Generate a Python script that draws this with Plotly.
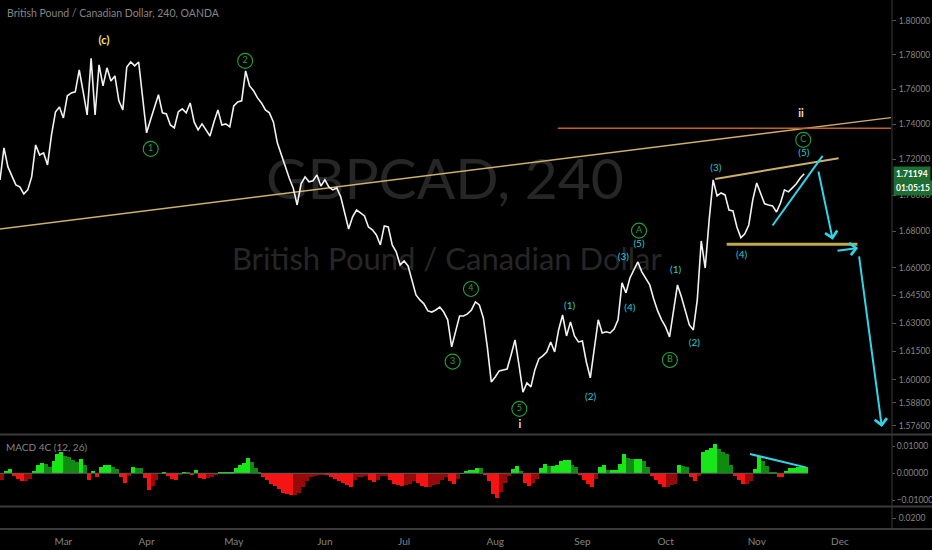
import math
import pandas as pd
import plotly.graph_objects as go

# ---------------- data ----------------
# GBPCAD, 4h chart condensed to one reading per trading day (starting 2019-02-07)
close = [
    1.7085, 1.7265, 1.7158, 1.7102, 1.7057, 1.7046, 1.7006, 1.7029, 1.7102, 1.7282,
    1.7225, 1.7237, 1.7169, 1.7339, 1.7470, 1.7499, 1.7436, 1.7563, 1.7580, 1.7586,
    1.7713, 1.7586, 1.7453, 1.7780, 1.7453, 1.7742, 1.7620, 1.7725, 1.7649, 1.7678,
    1.7534, 1.7482, 1.7730, 1.7759, 1.7736, 1.7759, 1.7539, 1.7351, 1.7425, 1.7499,
    1.7569, 1.7465, 1.7459, 1.7396, 1.7379, 1.7470, 1.7488, 1.7465, 1.7522, 1.7413,
    1.7368, 1.7402, 1.7368, 1.7333, 1.7413, 1.7482, 1.7396, 1.7402, 1.7385, 1.7505,
    1.7528, 1.7534, 1.7707, 1.7620, 1.7592, 1.7551, 1.7522, 1.7482, 1.7465, 1.7413,
    1.7294, 1.7225, 1.7152, 1.7096, 1.7040, 1.6945, 1.7063, 1.7102, 1.7074, 1.7080,
    1.7113, 1.7051, 1.7085, 1.7046, 1.7029, 1.7040, 1.6990, 1.6906, 1.6812, 1.6879,
    1.6917, 1.6901, 1.6884, 1.6823, 1.6807, 1.6779, 1.6724, 1.6829, 1.6823, 1.6724,
    1.6686, 1.6615, 1.6636, 1.6609, 1.6522, 1.6452, 1.6425, 1.6404, 1.6366, 1.6360,
    1.6371, 1.6387, 1.6360, 1.6318, 1.6174, 1.6264, 1.6339, 1.6339, 1.6350, 1.6371,
    1.6414, 1.6398, 1.6328, 1.6174, 1.5989, 1.6015, 1.6047, 1.6052, 1.6057, 1.6131,
    1.6211, 1.6078, 1.5935, 1.5984, 1.5963, 1.6052, 1.6110, 1.6126, 1.6147, 1.6200,
    1.6147, 1.6264, 1.6344, 1.6232, 1.6307, 1.6232, 1.6200, 1.6205, 1.6094, 1.6010,
    1.6158, 1.6318, 1.6248, 1.6254, 1.6248, 1.6269, 1.6318, 1.6517, 1.6463, 1.6544,
    1.6588, 1.6631, 1.6577, 1.6544, 1.6506, 1.6430, 1.6366, 1.6318, 1.6280, 1.6227,
    1.6360, 1.6506, 1.6441, 1.6360, 1.6291, 1.6264, 1.6425, 1.6746, 1.6598, 1.6862,
    1.7085, 1.6995, 1.7012, 1.7001, 1.6917, 1.6912, 1.6823, 1.6763, 1.6785, 1.6834,
    1.6973, 1.7068, 1.7006, 1.6951, 1.6945, 1.6940, 1.6906, 1.6956, 1.7029, 1.7018,
    1.7040, 1.7063, 1.7096, 1.71194,
]

# MACD 4C (12, 26) histogram, one reading per trading day
macd_hist = [
    -0.0025, 0.0010, 0.0015, -0.0010, -0.0020, -0.0030, -0.0030, -0.0020, 0.0008, 0.0032,
    0.0040, 0.0033, 0.0025, 0.0045, 0.0073, 0.0078, 0.0065, 0.0059, 0.0048, 0.0043,
    0.0053, 0.0030, -0.0025, 0.0010, -0.0012, 0.0023, 0.0030, 0.0030, 0.0024, 0.0015,
    -0.0015, -0.0036, -0.0010, 0.0024, 0.0021, 0.0018, -0.0018, -0.0062, -0.0047, -0.0025,
    -0.0002, 0.0005, -0.0010, -0.0022, -0.0024, -0.0003, 0.0004, 0.0003, -0.0008, 0.0012,
    -0.0018, -0.0021, -0.0019, -0.0015, -0.0004, 0.0003, 0.0004, 0.0004, 0.0006, 0.0020,
    0.0031, 0.0040, 0.0056, 0.0042, 0.0020, 0.0003, -0.0012, -0.0025, -0.0038, -0.0048,
    -0.0058, -0.0073, -0.0077, -0.0079, -0.0079, -0.0072, -0.0050, -0.0027, -0.0015, -0.0009,
    -0.0006, -0.0005, -0.0008, -0.0013, -0.0020, -0.0027, -0.0035, -0.0045, -0.0052, -0.0025,
    -0.0014, -0.0012, -0.0010, -0.0025, -0.0033, -0.0023, -0.0010, -0.0010, -0.0025, -0.0038,
    -0.0042, -0.0046, -0.0043, -0.0040, -0.0028, -0.0036, -0.0048, -0.0052, -0.0050, -0.0045,
    -0.0038, -0.0025, -0.0015, -0.0030, -0.0040, -0.0020, 0.0001, 0.0008, 0.0012, 0.0014,
    0.0019, 0.0018, -0.0005, -0.0028, -0.0075, -0.0090, -0.0068, -0.0035, -0.0010, 0.0015,
    0.0028, 0.0010, -0.0035, -0.0046, -0.0035, -0.0020, 0.0020, 0.0035, 0.0028, 0.0028,
    0.0030, 0.0045, 0.0048, 0.0049, 0.0032, 0.0022, -0.0005, -0.0025, -0.0038, -0.0050,
    -0.0020, 0.0025, 0.0030, 0.0014, 0.0014, 0.0014, 0.0035, 0.0072, 0.0056, 0.0053,
    0.0053, 0.0053, 0.0045, 0.0022, -0.0009, -0.0025, -0.0040, -0.0052, -0.0050, -0.0045,
    -0.0040, 0.0030, 0.0028, 0.0022, -0.0015, -0.0030, -0.0010, 0.0080, 0.0088, 0.0095,
    0.0109, 0.0090, 0.0078, 0.0072, 0.0030, -0.0010, -0.0025, -0.0040, -0.0038, -0.0027,
    0.0015, 0.0063, 0.0045, 0.0028, 0.0003, 0.0002, -0.0012, -0.0015, 0.0010, 0.0019,
    0.0021, 0.0022, 0.0022, 0.0022,
]

month_ticks = ["2019-03-01", "2019-04-01", "2019-05-01", "2019-06-03", "2019-07-01",
               "2019-08-01", "2019-09-02", "2019-10-01", "2019-11-01", "2019-12-02"]
month_labels = ["Mar", "Apr", "May", "Jun", "Jul", "Aug", "Sep", "Oct", "Nov", "Dec"]

price_ticks = [1.80, 1.78, 1.76, 1.74, 1.72, 1.70, 1.68, 1.66, 1.645, 1.63, 1.615, 1.60, 1.588, 1.576]
macd_ticks = [0.01, 0.0, -0.01]

# Elliott-wave labels
circle_labels = ["1", "2", "3", "4", "5", "A", "B", "C"]
circle_x = ["2019-04-02 01:00", "2019-05-03 21:00", "2019-07-17 06:00", "2019-07-23 21:00",
            "2019-08-09 02:00", "2019-09-20 07:00", "2019-10-02 02:00", "2019-11-18 18:00"]
circle_y = [1.72596, 1.77653, 1.60956, 1.64844, 1.58479, 1.68028, 1.61047, 1.73106]

sub_labels = ["(1)", "(2)", "(3)", "(4)", "(5)", "(1)", "(2)", "(3)", "(4)", "(5)"]
sub_x = ["2019-08-27 19:00", "2019-09-04 02:00", "2019-09-16 08:00", "2019-09-18 00:00",
         "2019-09-20 07:00", "2019-10-03 13:00", "2019-10-10 06:00", "2019-10-17 17:00",
         "2019-10-28 05:00", "2019-11-18 22:00"]
sub_y = [1.63888, 1.59062, 1.66545, 1.63782, 1.67281, 1.65834, 1.61925, 1.71506, 1.66637, 1.72312]

cycle_label = "(c)"
cycle_x = ["2019-03-15 06:00"]
cycle_y = [1.78781]
major_labels = ["i", "ii"]
major_x = ["2019-08-09 06:00", "2019-11-18 04:00"]
major_y = [1.57612, 1.74589]

# drawings (trend lines)
long_trend_x = ["2019-02-07 00:00", "2019-12-18 21:00"]
long_trend_y = [1.6812, 1.7438]
resist_x = ["2019-08-22 19:00", "2019-12-18 21:00"]
resist_y = [1.7377, 1.7377]
top_line_x = ["2019-10-17 12:00", "2019-11-29 16:00"]
top_line_y = [1.70905, 1.72069]
support_x = ["2019-10-22 10:00", "2019-12-06 10:00"]
support_y = [1.6728, 1.6728]
wedge_x = ["2019-11-07 00:00", "2019-11-25 15:00"]
wedge_y = [1.6831, 1.7220]
# projection arrows: (tail_x, tail_y, head_x, head_y)
arrows = [
    ("2019-11-22 12:00", 1.7141, "2019-11-28 05:00", 1.6752),
    ("2019-11-29 00:00", 1.6691, "2019-12-06 14:00", 1.6708),
    ("2019-12-06 19:00", 1.6670, "2019-12-16 14:00", 1.5754),
]
macd_div_x = ["2019-10-30 07:00", "2019-11-19 10:00"]
macd_div_y = [0.00715, 0.0022]

last_price = close[-1]
countdown = "01:05:15"

# ---------------- figure ----------------
dates = pd.bdate_range("2019-02-07", periods=len(close))

BG = "#000000"
GRAY = "#858585"
CYAN = "#2ed6ea"
LABEL_CYAN = "#29c9d6"
GREEN = "#24a03c"
FONT = "Lato"

fig = go.Figure()

# watermark (drawn first so it stays behind the price line)
fig.add_trace(go.Scatter(x=["2019-07-15 07:00"], y=[1.70568], mode="text", text=["GBPCAD, 240"],
                         textfont=dict(size=57, color="#262626", family=FONT),
                         hoverinfo="skip", showlegend=False, xaxis="x", yaxis="y"))
fig.add_trace(go.Scatter(x=["2019-07-15 19:00"], y=[1.66311], mode="text",
                         text=["British Pound / Canadian Dollar"],
                         textfont=dict(size=31, color="#262626", family=FONT),
                         hoverinfo="skip", showlegend=False, xaxis="x", yaxis="y"))

# trend lines
fig.add_trace(go.Scatter(x=long_trend_x, y=long_trend_y, mode="lines",
                         line=dict(color="#cdb06a", width=1.4), hoverinfo="skip", showlegend=False))
fig.add_trace(go.Scatter(x=resist_x, y=resist_y, mode="lines",
                         line=dict(color="#c4621c", width=1.4), hoverinfo="skip", showlegend=False))
fig.add_trace(go.Scatter(x=top_line_x, y=top_line_y, mode="lines",
                         line=dict(color="#cdb06a", width=2), hoverinfo="skip", showlegend=False))
fig.add_trace(go.Scatter(x=support_x, y=support_y, mode="lines",
                         line=dict(color="#bfa94e", width=3), hoverinfo="skip", showlegend=False))

# price
fig.add_trace(go.Scatter(x=dates, y=close, mode="lines", line=dict(color="#f2f2f2", width=1.6),
                         hoverinfo="skip", showlegend=False, xaxis="x", yaxis="y"))

fig.add_trace(go.Scatter(x=wedge_x, y=wedge_y, mode="lines",
                         line=dict(color=CYAN, width=2), hoverinfo="skip", showlegend=False))

# wave labels
fig.add_trace(go.Scatter(x=circle_x, y=circle_y, mode="markers+text", text=circle_labels,
                         textposition="middle center",
                         textfont=dict(size=9, color=GREEN, family=FONT),
                         marker=dict(symbol="circle-open", size=15, color=GREEN, line=dict(width=1.1)),
                         hoverinfo="skip", showlegend=False))
fig.add_trace(go.Scatter(x=sub_x, y=sub_y, mode="text", text=sub_labels,
                         textposition="middle center",
                         textfont=dict(size=10, color=LABEL_CYAN, family=FONT),
                         hoverinfo="skip", showlegend=False))
fig.add_trace(go.Scatter(x=cycle_x, y=cycle_y, mode="text", text=[cycle_label],
                         textposition="middle center",
                         textfont=dict(size=11, color="#f7e48c", family=FONT, weight="bold"),
                         hoverinfo="skip", showlegend=False))
fig.add_trace(go.Scatter(x=major_x, y=major_y, mode="text", text=major_labels,
                         textposition="middle center",
                         textfont=dict(size=11, color="#e8e2e2", family=FONT, weight="bold"),
                         hoverinfo="skip", showlegend=False))

# MACD 4C histogram
BRIGHT_GREEN, DARK_GREEN, BRIGHT_RED, DARK_RED = "#19e619", "#0f8c10", "#f41414", "#980a0a"
bar_colors = []
for i, v in enumerate(macd_hist):
    prev = macd_hist[i - 1] if i > 0 else v
    if v >= 0:
        bar_colors.append(BRIGHT_GREEN if v >= prev else DARK_GREEN)
    else:
        bar_colors.append(BRIGHT_RED if v < prev else DARK_RED)
fig.add_trace(go.Bar(x=dates, y=macd_hist, marker=dict(color=bar_colors, line=dict(width=0)),
                     width=86400000, offset=0, xaxis="x", yaxis="y2",
                     hoverinfo="skip", showlegend=False))
fig.add_trace(go.Scatter(x=macd_div_x, y=macd_div_y, mode="lines", line=dict(color=CYAN, width=2),
                         xaxis="x", yaxis="y2", hoverinfo="skip", showlegend=False))
# empty third pane
fig.add_trace(go.Scatter(x=[dates[0]], y=[None], mode="lines", xaxis="x", yaxis="y3",
                         hoverinfo="skip", showlegend=False))

# ---------------- layout ----------------
W, H = 932, 550
ML, MR, MT, MB = 0, 41, 0, 20
PH = H - MT - MB  # plot height in px
PW = W - ML - MR


def py(px):  # pixel row -> paper y
    return (PH - px) / PH


def px_x(px):  # pixel column -> paper x
    return px / PW


tickfont = dict(size=8.5, color=GRAY, family=FONT)

fig.update_layout(
    width=W, height=H,
    margin=dict(l=ML, r=MR, t=MT, b=MB),
    paper_bgcolor=BG, plot_bgcolor=BG,
    showlegend=False, hovermode=False,
    bargap=0,
    xaxis=dict(domain=[0, 1], anchor="y3", type="date",
               range=["2019-02-07", "2019-12-18 21:30"],
               rangebreaks=[dict(bounds=["sat", "mon"])],
               tickvals=month_ticks, ticktext=month_labels,
               showgrid=False, zeroline=False, showline=False, ticks="",
               ticklabelstandoff=5,
               tickfont=dict(size=10, color=GRAY, family=FONT)),
    yaxis=dict(domain=[py(434), 1], anchor="x", type="log", side="right",
               range=[math.log10(1.5718), math.log10(1.8124)],
               tickvals=price_ticks, tickformat=".5f",
               showgrid=False, zeroline=False, showline=False,
               ticks="outside", ticklen=4, tickcolor="#555555", tickfont=tickfont,
               ticklabelstandoff=1, automargin=False),
    yaxis2=dict(domain=[py(506), py(436)], anchor="x", side="right",
                range=[-0.012111, 0.013815], tickvals=macd_ticks, tickformat=".5f",
                showgrid=False, zeroline=False, showline=False,
                ticks="outside", ticklen=3, tickcolor="#555555", tickfont=tickfont,
                ticklabelstandoff=0, automargin=False),
    yaxis3=dict(domain=[py(529), py(507)], anchor="x", side="right",
                range=[0.01, 0.03], tickvals=[0.02], tickformat=".4f",
                showgrid=False, zeroline=False, showline=False,
                ticks="outside", ticklen=4, tickcolor="#555555", tickfont=tickfont,
                ticklabelstandoff=1, automargin=False),
)

shapes = []
# pane separators
for prow in (434.5, 506.5, 529):
    shapes.append(dict(type="line", xref="paper", yref="paper", x0=0, x1=W / PW,
                       y0=py(prow), y1=py(prow), line=dict(color="#3a3a3a", width=2)))
# price-scale border
shapes.append(dict(type="line", xref="paper", yref="paper", x0=px_x(892), x1=px_x(892),
                   y0=py(529), y1=1, line=dict(color="#3a3a3a", width=1)))
# last price dotted line
shapes.append(dict(type="line", xref="paper", yref="y", x0=0, x1=1,
                   y0=math.log10(last_price), y1=math.log10(last_price),
                   line=dict(color="#1f8a3a", width=1, dash="dot")))
# MACD zero line
shapes.append(dict(type="line", xref="x", yref="y2", x0=dates[0], x1=dates[-1] + pd.Timedelta(hours=24),
                   y0=0, y1=0, line=dict(color="#5a5a5a", width=1), layer="above"))
fig.update_layout(shapes=shapes)

annotations = [
    dict(text="British Pound / Canadian Dollar, 240, OANDA", xref="paper", yref="paper",
         x=px_x(5), y=py(13), xanchor="left", yanchor="middle", showarrow=False,
         font=dict(size=10.5, color=GRAY, family=FONT)),
    dict(text="MACD 4C (12, 26)", xref="paper", yref="paper",
         x=px_x(4), y=py(447), xanchor="left", yanchor="middle", showarrow=False,
         font=dict(size=10, color=GRAY, family=FONT)),
    dict(text="<b>%.5f</b>" % last_price, xref="paper", yref="y",
         x=px_x(893), y=math.log10(last_price), xanchor="left", yanchor="middle",
         showarrow=False, bgcolor="#1e6e32", borderpad=2,
         font=dict(size=8.5, color="#ffffff", family=FONT)),
    dict(text="<b>%s</b>" % countdown, xref="paper", yref="y",
         x=px_x(893), y=math.log10(last_price), yshift=-14, xanchor="left", yanchor="middle",
         showarrow=False, bgcolor="#1e6e32", borderpad=2,
         font=dict(size=8.5, color="#ffffff", family=FONT)),
]
for tx, ty, hx, hy in arrows:
    annotations.append(dict(text="", x=hx, y=math.log10(hy), xref="x", yref="y",
                            ax=tx, ay=math.log10(ty), axref="x", ayref="y",
                            showarrow=True, arrowhead=4, arrowsize=1.2, arrowwidth=2,
                            arrowcolor=CYAN))
fig.update_layout(annotations=annotations)

# remove the page's default body margin so the 932x550 figure fills the window
fig.write_html("out.html", config={"displayModeBar": False},
               post_script="document.body.style.margin='0';document.body.style.background='#000';")
